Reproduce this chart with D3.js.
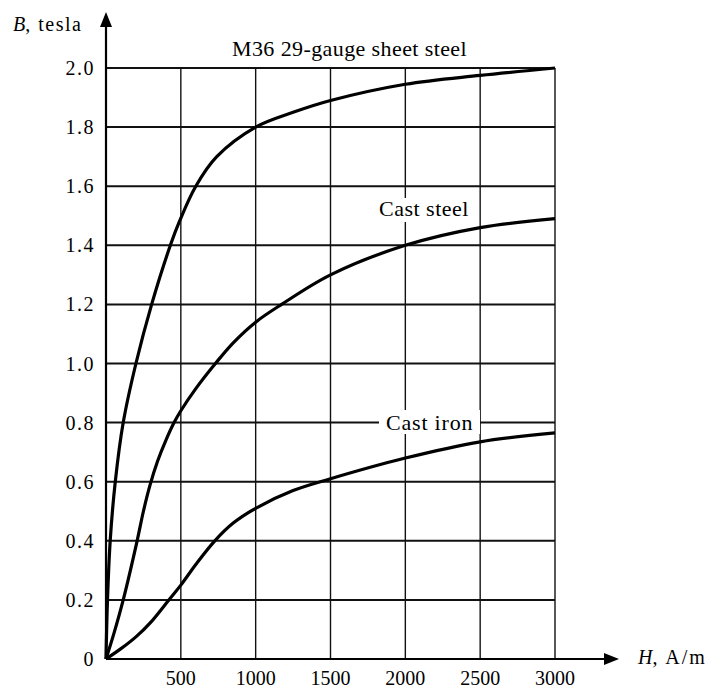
<!DOCTYPE html>
<html>
<head>
<meta charset="utf-8">
<script src="https://cdn.jsdelivr.net/npm/d3@7"></script>
<style>
  html, body { margin: 0; padding: 0; background: #fff; }
  svg { display: block; font-family: "Liberation Serif", "Times New Roman", serif; }
</style>
</head>
<body>
<svg id="chart"></svg>
<script>
// magnetization curves, H in A/m, B in tesla
const m36H = [0, 10, 28, 62, 115, 200, 305, 430, 490, 600, 740, 1000, 1250, 1500, 2000, 2500, 3000];
const m36B = [0, 0.2, 0.4, 0.6, 0.8, 1.0, 1.2, 1.4, 1.48, 1.6, 1.7, 1.8, 1.85, 1.89, 1.945, 1.975, 2.0];

const steelH = [0, 55, 115, 208, 250, 295, 345, 400, 455, 500, 600, 731, 850, 1000, 1173, 1500, 2000, 2500, 3000];
const steelB = [0, 0.09, 0.2, 0.4, 0.5, 0.59, 0.67, 0.74, 0.8, 0.84, 0.915, 1.0, 1.07, 1.14, 1.2, 1.3, 1.4, 1.46, 1.49];

const ironH = [0, 100, 200, 300, 420, 500, 600, 727, 850, 1000, 1250, 1500, 2000, 2500, 3000];
const ironB = [0, 0.035, 0.075, 0.125, 0.2, 0.25, 0.32, 0.4, 0.46, 0.51, 0.57, 0.61, 0.68, 0.735, 0.765];

const xTicks = [500, 1000, 1500, 2000, 2500, 3000];
const yTicks = [0, 0.2, 0.4, 0.6, 0.8, 1.0, 1.2, 1.4, 1.6, 1.8, 2.0];

const width = 722, height = 688;

const svg = d3.select("#chart")
  .attr("width", width)
  .attr("height", height)
  .attr("viewBox", [0, 0, width, height]);

const x = d3.scaleLinear().domain([0, 3000]).range([106, 555]);
const y = d3.scaleLinear().domain([0, 2]).range([659, 68]);

// grid
svg.append("g")
  .selectAll("line")
  .data(yTicks.filter(d => d > 0))
  .join("line")
  .attr("x1", x(0)).attr("x2", x(3000))
  .attr("y1", d => y(d)).attr("y2", d => y(d))
  .attr("stroke", "#111").attr("stroke-width", 2);

svg.append("g")
  .selectAll("line")
  .data(xTicks)
  .join("line")
  .attr("x1", d => x(d)).attr("x2", d => x(d))
  .attr("y1", y(0)).attr("y2", y(2))
  .attr("stroke", "#111").attr("stroke-width", 1.4);

// axes with arrows
svg.append("line")
  .attr("x1", x(0)).attr("x2", x(0))
  .attr("y1", y(0)).attr("y2", 20)
  .attr("stroke", "#000").attr("stroke-width", 2.2);
svg.append("path")
  .attr("d", `M${x(0)},12 L${x(0) - 6},27 L${x(0) + 6},27 Z`)
  .attr("fill", "#000");

svg.append("line")
  .attr("x1", x(0)).attr("x2", 610)
  .attr("y1", y(0)).attr("y2", y(0))
  .attr("stroke", "#000").attr("stroke-width", 2.2);
svg.append("path")
  .attr("d", `M619,${y(0)} L604,${y(0) - 6} L604,${y(0) + 6} Z`)
  .attr("fill", "#000");

// tick labels
svg.append("g")
  .selectAll("text")
  .data(yTicks)
  .join("text")
  .attr("x", 95)
  .attr("y", d => y(d))
  .attr("dy", "0.35em")
  .attr("text-anchor", "end")
  .attr("font-size", 20)
  .attr("letter-spacing", 1.5)
  .attr("fill", "#000")
  .text(d => d === 0 ? "0" : d3.format(".1f")(d));

svg.append("g")
  .selectAll("text")
  .data(xTicks)
  .join("text")
  .attr("x", d => x(d))
  .attr("y", 685)
  .attr("text-anchor", "middle")
  .attr("font-size", 20)
  .attr("fill", "#000")
  .text(d => d);

// axis titles
const yt = svg.append("text").attr("x", 13).attr("y", 31).attr("font-size", 20).attr("fill", "#000");
yt.append("tspan").attr("font-style", "italic").text("B");
yt.append("tspan").attr("letter-spacing", 1.5).text(", tesla");

const xt = svg.append("text").attr("x", 638).attr("y", 664).attr("font-size", 20).attr("fill", "#000");
xt.append("tspan").attr("font-style", "italic").text("H");
xt.append("tspan").attr("letter-spacing", 2).text(", A/m");

// curves
const series = [
  { name: "M36 29-gauge sheet steel", H: m36H, B: m36B },
  { name: "Cast steel", H: steelH, B: steelB },
  { name: "Cast iron", H: ironH, B: ironB }
];

const line = d3.line()
  .x(d => x(d[0]))
  .y(d => y(d[1]))
  .curve(d3.curveCatmullRom.alpha(0.5));

// label backgrounds (they break the grid lines)
svg.append("rect").attr("x", 377).attr("y", 198).attr("width", 94).attr("height", 24).attr("fill", "#fff");
svg.append("rect").attr("x", 379).attr("y", 410).attr("width", 101).attr("height", 24).attr("fill", "#fff");

svg.append("g")
  .selectAll("path")
  .data(series)
  .join("path")
  .attr("fill", "none")
  .attr("stroke", "#000")
  .attr("stroke-width", 3.2)
  .attr("stroke-linejoin", "round")
  .attr("d", s => line(s.H.map((h, i) => [h, s.B[i]])));

// curve labels
svg.append("text").attr("x", 232).attr("y", 56).attr("font-size", 22).attr("letter-spacing", 0.4).attr("fill", "#000").text(series[0].name);
svg.append("text").attr("x", 379).attr("y", 216).attr("font-size", 22).attr("letter-spacing", 0.5).attr("fill", "#000").text(series[1].name);
svg.append("text").attr("x", 386).attr("y", 430).attr("font-size", 22).attr("letter-spacing", 0.8).attr("fill", "#000").text(series[2].name);
</script>
</body>
</html>
